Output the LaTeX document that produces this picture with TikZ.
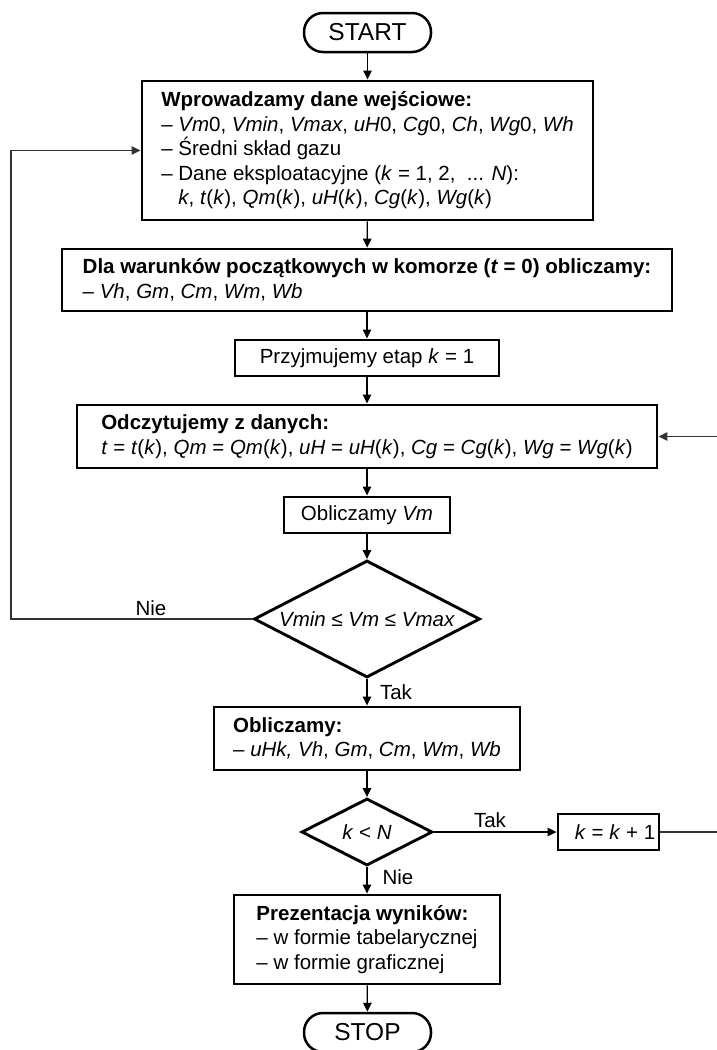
\documentclass[tikz,border=0pt]{standalone}
\usepackage{fontspec}
\setmainfont{Liberation Sans}
\usetikzlibrary{shapes.geometric,arrows.meta}
\tikzset{
  basefont/.style={font=\fontsize{20.5}{24.5}\selectfont},
  box/.style={draw, line width=2.9pt, align=left, inner sep=0pt, basefont},
  term/.style={draw, line width=2.5pt, rounded corners=19pt, inner sep=0pt,
    minimum width=127pt, minimum height=39pt, font=\fontsize{24.5}{29}\selectfont},
  dec/.style={diamond, draw, line width=2.9pt, inner sep=0pt, basefont},
  conn/.style={line width=1.3pt, -{Triangle[length=9pt,width=8.5pt]}},
  loopconn/.style={line width=1.2pt, draw=black!80, -{Triangle[length=9pt,width=8.5pt]}},
  lbl/.style={basefont, inner sep=0pt}
}
\begin{document}
\begin{tikzpicture}[x=1pt,y=-1pt]
\useasboundingbox (0,0) rectangle (717,1050);

\node[term] (start) at (367.5,32.5) {START};

\node[box, minimum width=451pt, minimum height=139pt] (b1) at (367.5,150.5)
 {\textbf{Wprowadzamy dane wejściowe:}\\
  – \textit{Vm}0, \textit{Vmin}, \textit{Vmax}, \textit{uH}0, \textit{Cg}0, \textit{Ch}, \textit{Wg}0, \textit{Wh}\\
  – Średni skład gazu\\
  – Dane eksploatacyjne (\textit{k} = 1, 2,\ \ ... \textit{N}):\\
  \phantom{– }\textit{k}, \textit{t}(\textit{k}), \textit{Qm}(\textit{k}), \textit{uH}(\textit{k}), \textit{Cg}(\textit{k}), \textit{Wg}(\textit{k})};

\node[box, minimum width=610pt, minimum height=62pt] (b2) at (367,280)
 {\textbf{Dla warunków początkowych w komorze (\textit{t} = 0) obliczamy:}\\
  \textit{– Vh}, \textit{Gm}, \textit{Cm}, \textit{Wm}, \textit{Wb}};

\node[box, minimum width=264pt, minimum height=36pt] (b3) at (367,358)
 {Przyjmujemy etap \textit{k} = 1};

\node[box, minimum width=580pt, minimum height=63pt] (b4) at (367,436.5)
 {\textbf{Odczytujemy z danych:}\\
  \textit{t} = \textit{t}(\textit{k}), \textit{Qm} = \textit{Qm}(\textit{k}), \textit{uH} = \textit{uH}(\textit{k}), \textit{Cg} = \textit{Cg}(\textit{k}), \textit{Wg} = \textit{Wg}(\textit{k})};

\node[box, minimum width=166pt, minimum height=36pt] (b5) at (367,515)
 {Obliczamy \textit{Vm}};

\node[dec, aspect=1.93, minimum width=226pt, minimum height=117pt] (d1) at (367,619)
 {\textit{Vmin ≤ Vm ≤ Vmax}};

\node[box, minimum width=306pt, minimum height=63pt] (b6) at (367,738.5)
 {\textbf{Obliczamy:}\\
  – \textit{uHk, Vh}, \textit{Gm}, \textit{Cm}, \textit{Wm}, \textit{Wb}};

\node[dec, aspect=1.95, minimum width=131pt, minimum height=67pt] (d2) at (367,832)
 {\textit{k} < \textit{N}};

\node[box, minimum width=101pt, minimum height=36pt] (kb) at (608.5,832)
 {\hspace*{13pt}\textit{k} = \textit{k} + 1};

\node[box, minimum width=266pt, minimum height=89pt] (b7) at (367,939.5)
 {\textbf{Prezentacja wyników:}\\
  – w formie tabelarycznej\\
  – w formie graficznej};

\node[term] (stop) at (367.5,1032.5) {STOP};

% main flow
\draw[conn] (start) -- (b1);
\draw[conn] (b1) -- (b2);
\draw[conn] (b2) -- (b3);
\draw[conn] (b3) -- (b4);
\draw[conn] (b4) -- (b5);
\draw[conn] (b5) -- (d1);
\draw[conn] (d1) -- (b6);
\draw[conn] (b6) -- (d2);
\draw[conn] (d2) -- (b7);
\draw[conn] (b7) -- (stop);
\draw[conn] (d2.east) -- (kb.west);

% loops
\coordinate (L1) at (11,619);
\draw[loopconn] (d1.west) -- (L1) |- (b1.west);
\coordinate (R1) at (718,832);
\draw[loopconn] (kb.east) -- (R1) |- (b4.east);

% labels
\node[lbl] (nie1) at (151,608) {Nie};
\node[lbl] (tak1) at (396,692) {Tak};
\node[lbl] (tak2) at (490,820) {Tak};
\node[lbl] (nie2) at (398,877) {Nie};
\end{tikzpicture}
\end{document}
